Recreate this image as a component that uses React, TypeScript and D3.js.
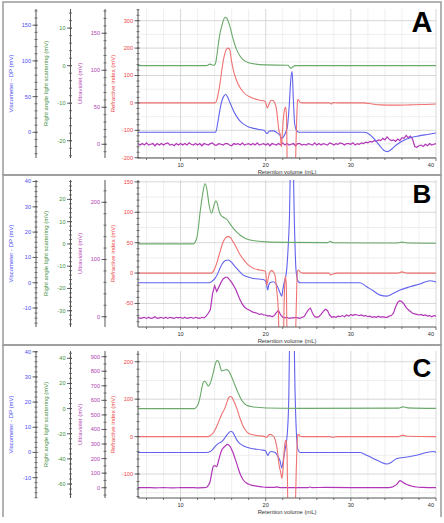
import React from "react";
import * as d3 from "d3";

type Pt = [number, number];

// ---------------- shared x axis ----------------
const xDomain: [number, number] = [5, 40];
const xTickValues = [10, 20, 30, 40];
const xMinorGrid = [6, 8, 12, 14, 16, 18, 22, 24, 26, 28, 32, 34, 36, 38];
const xTitle = "Retention volume (mL)";

// ---------------- axis titles ----------------
const titleVisc = "Viscometer - DP (mV)";
const titleRals = "Right angle light scattering (mV)";
const titleUv = "Ultraviolet (mV)";
const titleRi = "Refractive index (mV)";

// ---------------- Panel A axes ----------------
const aViscDomain: [number, number] = [-36, 172.7];
const aViscTicks = [0, 50, 100, 150];
const aRalsDomain: [number, number] = [-24.6, 15.1];
const aRalsTicks = [-20, -10, 0, 10];
const aUvDomain: [number, number] = [-18.5, 182.8];
const aUvTicks = [0, 50, 100, 150];
const aRiDomain: [number, number] = [-201, 342.7];
const aRiTicks = [-200, -100, 0, 100, 200, 300];

// ---------------- Panel B axes ----------------
const bViscDomain: [number, number] = [-17.5, 40.6];
const bViscTicks = [-10, 0, 10, 20, 30, 40];
const bRalsDomain: [number, number] = [-37.3, 28.7];
const bRalsTicks = [-30, -20, -10, 0, 10, 20];
const bUvDomain: [number, number] = [-18, 239];
const bUvTicks = [0, 100, 200];
const bRiDomain: [number, number] = [-88.7, 153.1];
const bRiTicks = [-50, 0, 50, 100, 150];

// ---------------- Panel C axes ----------------
const cViscDomain: [number, number] = [-18.1, 40.3];
const cViscTicks = [-10, 0, 10, 20, 30, 40];
const cRalsDomain: [number, number] = [-71.1, 45.8];
const cRalsTicks = [-60, -40, -20, 0, 20, 40];
const cUvDomain: [number, number] = [-70.7, 939];
const cUvTicks = [0, 100, 200, 300, 400, 500, 600, 700, 800, 900];
const cRiDomain: [number, number] = [-164, 228.7];
const cRiTicks = [-100, 0, 100, 200];

// ---------------- Panel A traces ----------------
const greenA: Pt[] = [[5,0],[13,0],[13.45,0.4],[13.9,0.1],[14.1,0.6],[14.25,2.5],[14.45,6],[14.65,8.8],[14.85,10.6],[15.05,12.2],[15.22,12.9],[15.4,12.7],[15.6,11.8],[15.8,10.4],[16.0,8.6],[16.3,6.1],[16.6,4.2],[17.0,2.5],[17.4,1.5],[18.0,0.8],[18.6,0.5],[20,0.2],[22.6,0.1],[22.85,-0.5],[23.0,-0.7],[23.2,-0.3],[23.5,0],[40,0]];
const redA: Pt[] = [[5,0],[14.0,0],[14.2,5],[14.4,30],[14.65,75],[14.85,120],[15.05,160],[15.3,190],[15.55,200],[15.75,196],[16.0,150],[16.2,120],[16.6,80],[17.0,55],[17.4,38],[18.0,24],[18.6,16],[19.3,10],[19.9,6],[20.05,-5],[20.18,-18],[20.3,-12],[20.45,0],[20.65,10],[20.85,9],[21.05,0],[21.25,-20],[21.4,-60],[21.55,-100],[21.7,-115],[21.85,-160],[21.95,-110],[22.1,-50],[22.25,-20],[22.35,-15],[22.45,-60],[22.55,-260],[23.45,-260],[23.6,-100],[23.75,10],[23.85,12],[24.0,3],[24.3,0],[27.5,0],[27.7,-4],[27.9,1],[28.5,0],[31.5,0],[32.5,-4],[33.5,-7],[35,-8],[37,-7],[38.5,-6],[40,-4]];
const blueA: Pt[] = [[5,0],[14.0,0],[14.15,1],[14.35,12],[14.6,30],[14.85,44],[15.1,51],[15.3,53],[15.5,50],[15.75,43],[16.0,36],[16.3,28],[16.6,22],[17.0,15.5],[17.4,11.5],[18.0,7.5],[18.6,5.5],[19.2,4],[19.8,3],[20.05,-1],[20.2,-1.5],[20.35,1],[20.6,2],[20.9,2],[21.3,-0.5],[21.6,-3],[21.9,-8.5],[22.1,-6],[22.35,0],[22.55,8],[22.75,35],[22.95,75],[23.1,85],[23.25,45],[23.4,12],[23.6,3],[23.9,0],[31.6,0],[32.2,-3],[32.8,-10],[33.4,-19],[33.9,-25.5],[34.3,-27],[34.7,-24.5],[35.2,-19],[35.8,-14],[36.4,-10],[37.0,-7.5],[38.0,-5],[39.0,-3],[40,-1]];
const purpleAStart = 5;
const purpleAStep = 0.25;
const purpleAValues = [
  1, -1, 1, -1, 2, -1, 0, 1, -2, 1, -1, 1, -1, 1, 2, -1, 0, -2, 1, -1,
  1, -1, 1, -1, 2, 0, -1, 1, -1, 1, -2, 1, 0, -1, 1, 2, -1, -1, 1, 0,
  -1, 1, 1, -1, -2, 1, 0, 1, -1, 2, -1, 0, 1, -1, 1, -1, 2, -1, 0, 1,
  -1, 1, -2, 1, 0, -1, 1, -1, 2, -1, 1, -1, 0, 1, -2, 1, 1, -1, 0, -1,
  1, 0, -1, 2, -1, 1, -1, 1, 0, -1, 2, 1, -1, 1, 0, 2, 1, -1, 1, 1,
  0, 2, -1, 1, 0, 2, 1, 3, 2, 4, 3, 5, 4, 6, 5, 8, 6, 10, 7, 5,
  6, 4, 7, 5, 9, 8, 12, 9, 11, 7, -3, -4, -2, -1, -3, 0, -2, 1, -1, 0,
  1,
];

// ---------------- Panel B traces ----------------
const greenB: Pt[] = [[5,0],[11.5,0],[11.7,0.8],[11.9,2.6],[12.1,7.5],[12.28,13.8],[12.5,20],[12.67,24.2],[12.87,27],[13.07,25],[13.22,21],[13.38,16.8],[13.65,13.8],[13.93,17.5],[14.16,19.4],[14.3,18.3],[14.44,16],[14.71,13],[15.02,12],[15.41,11.1],[15.81,9],[16.2,7],[16.6,5.3],[16.98,4],[17.76,2.2],[18.94,1.3],[20.1,0.9],[22.5,0.7],[27.3,0.6],[27.6,1.2],[27.9,0.5],[35.5,0.4],[36,0.8],[36.6,0.4],[40,0.3]];
const redB: Pt[] = [[5,0],[13.65,0],[13.9,4],[14.24,16],[14.63,35],[15.02,52],[15.3,58],[15.6,60],[15.9,58],[16.1,53],[16.4,46],[16.7,38],[17.0,30],[17.4,22],[17.76,16],[18.2,11],[18.55,8],[19.3,5],[19.95,3],[20.05,-6],[20.12,-20],[20.25,-12],[20.4,-2],[20.55,3],[20.7,4],[20.9,2],[21.1,-4],[21.29,-28],[21.48,-61],[21.6,-120],[22.05,-120],[22.2,-30],[22.3,-5],[22.42,-20],[22.52,-120],[23.45,-120],[23.6,-50],[23.72,3],[23.85,5],[24.05,2],[24.4,0],[27.4,0],[27.6,-3],[27.85,-2],[28.3,0],[35.5,0],[36,2],[36.6,0],[40,0]];
const blueB: Pt[] = [[5,0],[13.4,0],[13.7,0.6],[14.04,1.7],[14.35,3.5],[14.63,5.7],[14.9,7.5],[15.22,8.7],[15.61,9],[16.0,8],[16.3,6.8],[16.59,5.7],[17.0,4.2],[17.37,3],[18.0,2.2],[18.55,1.7],[19.72,1.3],[20.0,0.5],[20.11,-0.9],[20.23,-2.9],[20.35,-1],[20.5,0],[20.9,0.4],[21.29,-0.9],[21.5,-2.5],[21.68,-4],[21.88,-5.3],[22.0,-3],[22.15,-0.3],[22.46,5],[22.65,15],[22.78,25],[22.97,55],[23.17,55],[23.36,25],[23.56,5],[23.83,0.4],[24.03,0],[31.08,0],[31.86,-1.6],[32.64,-3.2],[33.43,-4.9],[34.21,-5.3],[34.99,-4.2],[35.78,-2.9],[36.95,-1.6],[38.12,-0.5],[39.3,0.8],[39.7,0.6],[40,0.2]];
const purpleBStart = 5;
const purpleBStep = 0.25;
const purpleBValues = [
  -1, -3, -2, -1, -3, -1, -3, -2, 0, -3, -2, -1, -3, -1, -3, -1, -2, -3, -1, -2,
  -1, -3, -1, -3, -2, -1, -3, -1, -2, -3, -1, -2, 1, 6, 12, 40, 54, 44, 52, 60,
  66, 69, 69, 65, 60, 54, 47, 38, 29, 22, 17, 14, 12, 10, 8, 7, 6, 4, 5, 3,
  3, 1, 2, 0, 2, 7, 11, 3, -1, -2, -1, -3, -2, -2, -1, -2, -3, -1, 0, 6,
  12, 15, 6, 0, -1, 0, 4, 9, 13, 11, 3, -1, 0, -1, 1, 0, 2, 0, 3, 1,
  4, 2, 4, 3, 2, 3, 1, 2, 0, 1, -1, 0, -1, 1, -1, 0, -1, -1, 1, 2,
  6, 17, 25, 28, 26, 22, 16, 12, 9, 6, 5, 4, 3, 4, 2, 3, 1, 2, 0, 2,
  1,
];

// ---------------- Panel C traces ----------------
const greenC: Pt[] = [[5,0],[11.6,0],[11.8,0.8],[12.09,4],[12.36,11.5],[12.55,18],[12.67,21],[12.87,21.8],[13.07,19.8],[13.26,17.8],[13.45,19.5],[13.65,23.4],[13.85,29],[14.04,34.5],[14.2,37.5],[14.32,38.5],[14.45,37.5],[14.55,35.8],[14.7,32],[14.83,30],[15.1,30.5],[15.41,31],[15.6,30.3],[15.73,29],[16.0,25.2],[16.39,18.6],[16.79,12],[17.18,6.6],[17.76,2.6],[18.55,1.3],[20.1,0.5],[24,0.2],[35.6,0.4],[36.1,1.4],[36.7,0.6],[40,0.2]];
const redC: Pt[] = [[5,0],[13.2,0],[13.5,3],[13.8,9],[14.1,20],[14.4,36],[14.8,58],[15.2,76],[15.45,92],[15.65,104],[15.85,107],[16.05,104],[16.25,95],[16.6,76],[16.98,49],[17.37,27],[17.7,15],[17.96,9],[18.5,5],[18.94,3],[19.9,0],[20.1,-2],[20.3,3],[20.55,6],[20.75,4],[21.0,-2],[21.3,-27],[21.6,-80],[21.8,-100],[21.88,-112],[21.98,-100],[22.07,-75],[22.2,-30],[22.32,-12],[22.4,-10],[22.5,-40],[22.62,-200],[23.45,-200],[23.6,-80],[23.75,3],[23.85,6],[24.03,1],[24.3,0],[27.5,0],[27.9,-2],[28.3,0],[35.6,0],[36.1,4],[36.7,1],[40,0]];
const blueC: Pt[] = [[5,0],[13.0,0],[13.5,0.4],[13.85,1.5],[14.04,2.3],[14.3,3.2],[14.55,3.8],[14.83,4.3],[15.1,5.3],[15.4,6.8],[15.61,7.6],[15.8,8.2],[16.0,8.3],[16.2,7.6],[16.4,6.3],[16.6,5],[17.0,3.4],[17.4,2.6],[18.2,1.7],[19.5,1],[20.0,0.6],[20.1,-0.3],[20.25,-1.2],[20.4,-0.3],[20.6,0.4],[21.1,0],[21.5,-2],[21.7,-3.5],[21.88,-6.2],[22.07,-3],[22.27,1],[22.54,7.7],[22.7,20],[22.85,50],[23.3,50],[23.44,25],[23.6,8],[23.8,1],[24.03,0],[31.1,0],[31.86,-1.1],[32.64,-2.4],[33.43,-3.7],[34.21,-4.6],[34.8,-3.8],[35.4,-2.4],[36.6,-1.8],[37.7,-1.1],[38.9,0],[39.7,0.4],[40,0]];
const purpleC: Pt[] = [[5,0],[6,1],[7,-1],[8,0.5],[9,-1],[10,0],[11,1],[12,-0.5],[12.8,0],[13.07,3],[13.3,20],[13.46,41],[13.65,98],[13.85,148],[14.04,152],[14.24,144],[14.44,180],[14.63,222],[14.83,258],[15.02,274],[15.22,285],[15.49,297],[15.65,294],[15.81,285],[16.0,262],[16.2,235],[16.4,200],[16.59,167],[16.79,130],[16.98,98],[17.18,72],[17.37,53],[17.6,38],[17.96,25],[18.4,16],[18.94,11],[19.5,6],[20.11,2],[21.0,2],[21.29,6],[21.5,2],[22,0],[25.0,1],[25.2,5],[25.4,1],[27,2],[30,1],[34.5,1],[34.8,4],[35.1,12],[35.39,23],[35.78,48],[36.0,42],[36.17,34],[36.45,26],[36.75,18],[37.2,10],[37.7,5],[38.5,2],[40,0]];

// ---------------- styling ----------------
const FONT = "'Liberation Sans', Arial, sans-serif";
const LINE = { visc: "#6262ee", rals: "#6aaa6a", uv: "#b236b8", ri: "#f07272" };
const TEXT = { visc: "#4b4bf0", rals: "#3f8f3f", uv: "#b040b0", ri: "#ee4444" };
const PLOT_L = 138;
const PLOT_R = 436;
const AXIS_X = { visc: 36, rals: 70.5, uv: 105, ri: 138 };
const TITLE_X = { visc: 11, rals: 45.5, uv: 79.5, ri: 113 };

const uniform = (start: number, step: number, vals: number[]): Pt[] =>
  vals.map((v, i) => [start + i * step, v] as Pt);

interface AxisCfg { domain: [number, number]; ticks: number[]; minor: number; }
interface PanelCfg {
  letter: string; top: number; bottom: number; letterSize: number; letterY: number;
  visc: AxisCfg; rals: AxisCfg; uv: AxisCfg; ri: AxisCfg;
  green: Pt[]; red: Pt[]; blue: Pt[]; purple: Pt[];
}

const panels: PanelCfg[] = [
  {
    letter: "A", top: 9, bottom: 158, letterSize: 29, letterY: 31.5,
    visc: { domain: aViscDomain, ticks: aViscTicks, minor: 10 },
    rals: { domain: aRalsDomain, ticks: aRalsTicks, minor: 2 },
    uv: { domain: aUvDomain, ticks: aUvTicks, minor: 10 },
    ri: { domain: aRiDomain, ticks: aRiTicks, minor: 20 },
    green: greenA, red: redA, blue: blueA, purple: uniform(purpleAStart, purpleAStep, purpleAValues),
  },
  {
    letter: "B", top: 180, bottom: 327, letterSize: 26, letterY: 203,
    visc: { domain: bViscDomain, ticks: bViscTicks, minor: 2 },
    rals: { domain: bRalsDomain, ticks: bRalsTicks, minor: 2 },
    uv: { domain: bUvDomain, ticks: bUvTicks, minor: 20 },
    ri: { domain: bRiDomain, ticks: bRiTicks, minor: 10 },
    green: greenB, red: redB, blue: blueB, purple: uniform(purpleBStart, purpleBStep, purpleBValues),
  },
  {
    letter: "C", top: 351, bottom: 498, letterSize: 26, letterY: 376.5,
    visc: { domain: cViscDomain, ticks: cViscTicks, minor: 2 },
    rals: { domain: cRalsDomain, ticks: cRalsTicks, minor: 4 },
    uv: { domain: cUvDomain, ticks: cUvTicks, minor: 50 },
    ri: { domain: cRiDomain, ticks: cRiTicks, minor: 20 },
    green: greenC, red: redC, blue: blueC, purple: purpleC,
  },
];

function VAxis({ x, cfg, top, bottom, color, title, titleX }: {
  x: number; cfg: AxisCfg; top: number; bottom: number; color: string; title: string; titleX: number;
}) {
  const y = d3.scaleLinear().domain(cfg.domain).range([bottom, top]);
  const start = Math.ceil(cfg.domain[0] / cfg.minor) * cfg.minor;
  const minors = d3.range(start, cfg.domain[1] + 1e-9, cfg.minor);
  return (
    <g>
      <line x1={x} x2={x} y1={top} y2={bottom} stroke="#555" strokeWidth={1} />
      {minors.map((v, i) => (
        <line key={"m" + i} x1={x - 1.5} x2={x + 1.5} y1={y(v)} y2={y(v)} stroke="#555" strokeWidth={0.8} />
      ))}
      {cfg.ticks.map((v) => (
        <g key={v}>
          <line x1={x - 3.5} x2={x + 1.5} y1={y(v)} y2={y(v)} stroke="#555" strokeWidth={0.9} />
          <text x={x - 5} y={y(v)} dy="0.35em" textAnchor="end" fontSize={5.6} fill={color} fontFamily={FONT}>{v}</text>
        </g>
      ))}
      <text transform={`translate(${titleX},${(top + bottom) / 2}) rotate(-90)`} textAnchor="middle" dy="0.35em"
        fontSize={6} fill={color} fontFamily={FONT}>{title}</text>
    </g>
  );
}

function Panel({ p }: { p: PanelCfg }) {
  const x = d3.scaleLinear().domain(xDomain).range([PLOT_L, PLOT_R]);
  const mk = (d: [number, number]) => d3.scaleLinear().domain(d).range([p.bottom, p.top]);
  const yVisc = mk(p.visc.domain);
  const yRals = mk(p.rals.domain);
  const yUv = mk(p.uv.domain);
  const yRi = mk(p.ri.domain);
  const riStep = p.ri.ticks[1] - p.ri.ticks[0];
  const riMinor = d3.range(p.ri.ticks[0] - riStep / 2, p.ri.domain[1], riStep).filter((v) => v > p.ri.domain[0] && v < p.ri.domain[1]);
  const clipId = "clip" + p.letter;
  const mkLine = (ys: d3.ScaleLinear<number, number>, curve: d3.CurveFactory) =>
    d3.line<Pt>().x((d) => x(d[0])).y((d) => ys(d[1])).curve(curve);
  return (
    <g>
      <defs>
        <clipPath id={clipId}>
          <rect x={PLOT_L} y={p.top} width={PLOT_R - PLOT_L} height={p.bottom - p.top} />
        </clipPath>
      </defs>
      {xMinorGrid.map((v) => (
        <line key={"gx" + v} x1={x(v)} x2={x(v)} y1={p.top} y2={p.bottom} stroke="#ebebeb" strokeWidth={0.8} />
      ))}
      {riMinor.map((v, i) => (
        <line key={"gy" + i} x1={PLOT_L} x2={PLOT_R} y1={yRi(v)} y2={yRi(v)} stroke="#ebebeb" strokeWidth={0.8} />
      ))}
      {xTickValues.map((v) => (
        <line key={"GX" + v} x1={x(v)} x2={x(v)} y1={p.top} y2={p.bottom} stroke="#d2d2d2" strokeWidth={0.9} />
      ))}
      {p.ri.ticks.map((v) => (
        <line key={"GY" + v} x1={PLOT_L} x2={PLOT_R} y1={yRi(v)} y2={yRi(v)} stroke="#d2d2d2" strokeWidth={0.9} />
      ))}
      <g clipPath={`url(#${clipId})`} fill="none">
        <path d={mkLine(yUv, p.letter === "C" ? d3.curveMonotoneX : d3.curveLinear)(p.purple) || ""} stroke={LINE.uv} strokeWidth={1.2} />
        <path d={mkLine(yVisc, d3.curveMonotoneX)(p.blue) || ""} stroke={LINE.visc} strokeWidth={1.1} />
        <path d={mkLine(yRi, d3.curveMonotoneX)(p.red) || ""} stroke={LINE.ri} strokeWidth={1.1} />
        <path d={mkLine(yRals, d3.curveMonotoneX)(p.green) || ""} stroke={LINE.rals} strokeWidth={1.1} />
      </g>
      <line x1={PLOT_L} x2={PLOT_R} y1={p.bottom} y2={p.bottom} stroke="#555" strokeWidth={1} />
      {d3.range(6, 40.01, 2).map((v) => (
        <line key={"xt" + v} x1={x(v)} x2={x(v)} y1={p.bottom} y2={p.bottom + (v % 10 === 0 ? 3 : 2)} stroke="#555" strokeWidth={0.8} />
      ))}
      {xTickValues.map((v) => {
        const px = x(v);
        const last = px + 5 > PLOT_R;
        return (
          <text key={"xl" + v} x={last ? PLOT_R - 2 : px} y={p.bottom + 8.5} textAnchor={last ? "end" : "middle"}
            fontSize={5.6} fill="#333" fontFamily={FONT}>{v}</text>
        );
      })}
      <text x={(PLOT_L + PLOT_R) / 2} y={p.bottom + 15.5} textAnchor="middle" fontSize={5.8} fill="#333" fontFamily={FONT}>{xTitle}</text>
      <VAxis x={AXIS_X.visc} cfg={p.visc} top={p.top} bottom={p.bottom} color={TEXT.visc} title={titleVisc} titleX={TITLE_X.visc} />
      <VAxis x={AXIS_X.rals} cfg={p.rals} top={p.top} bottom={p.bottom} color={TEXT.rals} title={titleRals} titleX={TITLE_X.rals} />
      <VAxis x={AXIS_X.uv} cfg={p.uv} top={p.top} bottom={p.bottom} color={TEXT.uv} title={titleUv} titleX={TITLE_X.uv} />
      <VAxis x={AXIS_X.ri} cfg={p.ri} top={p.top} bottom={p.bottom} color={TEXT.ri} title={titleRi} titleX={TITLE_X.ri} />
      <text x={422} y={p.letterY} textAnchor="middle" fontSize={p.letterSize} fontWeight="bold" fill="#000" fontFamily={FONT}>{p.letter}</text>
    </g>
  );
}

export default function App() {
  return (
    <svg width={444} height={523} viewBox="0 0 444 523"
      style={{ position: "fixed", left: 0, top: 0, display: "block", background: "#fff" }}>
      <rect x={0} y={0} width={444} height={523} fill="#fff" />
      {panels.map((p) => <Panel key={p.letter} p={p} />)}
      <rect x={3} y={2} width={438} height={173} fill="none" stroke="#9a9a9a" strokeWidth={1.5} />
      <rect x={3} y={175} width={438} height={170} fill="none" stroke="#9a9a9a" strokeWidth={1.5} />
      <path d="M3,517 V345 H441 V517" fill="none" stroke="#9a9a9a" strokeWidth={1.5} />
    </svg>
  );
}
